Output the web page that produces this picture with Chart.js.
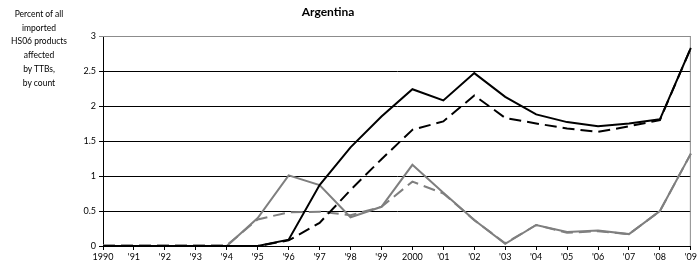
<!DOCTYPE html>
<html>
<head>
<meta charset="utf-8">
<script src="https://cdn.jsdelivr.net/npm/chart.js@4"></script>
<style>
  body { margin: 0; background: #fff; }
  #wrap { position: relative; width: 699px; height: 274px; font-family: Lato, "Open Sans", sans-serif; }
  #title { position: absolute; left: 0; width: 656px; top: 4px; text-align: center; font-weight: bold; font-size: 12px; color: #000; }
  #ylab { position: absolute; left: 0; width: 78px; top: 8px; text-align: center; font-size: 8.5px; line-height: 13.7px; color: #000; }
  canvas { position: absolute; left: 0; top: 0; }
</style>
</head>
<body>
<div id="wrap">
  <canvas id="chart" width="699" height="274"></canvas>
  <div id="title">Argentina</div>
  <div id="ylab">Percent of all<br>imported<br>HS06 products<br>affected<br>by TTBs,<br>by count</div>
</div>
<script>
const years = ["1990", "'91", "'92", "'93", "'94", "'95", "'96", "'97", "'98", "'99", "2000", "'01", "'02", "'03", "'04", "'05", "'06", "'07", "'08", "'09"];
const yTicks = ["0", "0.5", "1", "1.5", "2", "2.5", "3"];
const blackSolid = [0, 0, 0, 0, 0, 0, 0.09, 0.87, 1.41, 1.85, 2.24, 2.08, 2.47, 2.13, 1.88, 1.77, 1.71, 1.75, 1.81, 2.83];
const blackDashed = [0, 0, 0, 0, 0, 0, 0.08, 0.33, 0.8, 1.24, 1.66, 1.78, 2.15, 1.83, 1.75, 1.68, 1.63, 1.71, 1.8, 2.83];
const graySolid = [0, 0, 0, 0, 0, 0.4, 1.01, 0.87, 0.41, 0.56, 1.16, 0.76, 0.37, 0.03, 0.3, 0.2, 0.22, 0.17, 0.5, 1.32];
const grayDashed = [0.01, 0.01, 0.01, 0.01, 0.01, 0.38, 0.48, 0.49, 0.44, 0.56, 0.92, 0.75, 0.37, 0.04, 0.3, 0.19, 0.21, 0.17, 0.5, 1.32];

const ctx = document.getElementById('chart');

// gray frame around plot area (top + right edges)
const frame = {
  id: 'frame',
  beforeDatasetsDraw(chart) {
    const a = chart.chartArea, c = chart.ctx;
    c.save();
    c.strokeStyle = '#8c8c8c';
    c.lineWidth = 1;
    c.beginPath();
    c.moveTo(a.left, a.top + 0.5);
    c.lineTo(a.right - 0.5, a.top + 0.5);
    c.lineTo(a.right - 0.5, a.bottom);
    c.stroke();
    c.restore();
  }
};

function line(data, color, dash) {
  return {
    data: data,
    borderColor: color,
    borderWidth: 2,
    borderDash: dash,
    pointRadius: 0,
    tension: 0,
    fill: false
  };
}

new Chart(ctx, {
  type: 'line',
  data: {
    labels: years,
    datasets: [
      line(blackSolid, '#000', []),
      line(blackDashed, '#000', [12, 6]),
      line(graySolid, '#7f7f7f', []),
      line(grayDashed, '#7f7f7f', [12, 6])
    ]
  },
  options: {
    responsive: false,
    animation: false,
    layout: { padding: { top: 36, right: 6, bottom: 0, left: 0 } },
    plugins: { legend: { display: false }, title: { display: false }, tooltip: { enabled: false } },
    scales: {
      x: {
        offset: false,
        grid: { drawOnChartArea: false, tickLength: 4, color: '#000' },
        border: { color: '#000' },
        ticks: { autoSkip: false, maxRotation: 0, color: '#000', font: { family: 'Lato', size: 9 }, padding: 2 },
        afterFit(s) { s.height = 28; }
      },
      y: {
        min: 0,
        max: 3,
        grid: { color: (c) => c.tick && c.tick.value === 3 ? '#8c8c8c' : '#000', tickLength: 4 },
        border: { color: '#000' },
        ticks: {
          stepSize: 0.5,
          color: '#000',
          font: { family: 'Lato', size: 9 },
          padding: 3,
          callback: (v, i) => yTicks[i]
        },
        afterFit(s) { s.width = 103; }
      }
    }
  },
  plugins: [frame]
});
</script>
</body>
</html>
